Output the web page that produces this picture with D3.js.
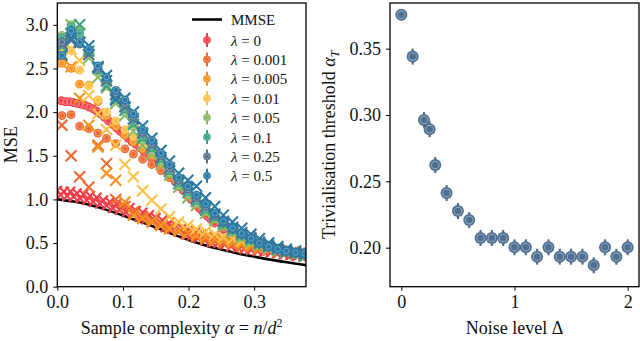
<!DOCTYPE html>
<html>
<head>
<meta charset="utf-8">
<script src="https://cdnjs.cloudflare.com/ajax/libs/d3/7.8.5/d3.min.js"></script>
<style>
  body { margin: 0; background: #fff; }
  svg { display: block; }
  text { font-family: "Liberation Serif", "DejaVu Serif", serif; fill: #111; }
</style>
</head>
<body>
<div id="chart"></div>
<script>
// ---- left panel data: MSE vs sample complexity ----
const lambdas = ["0", "0.001", "0.005", "0.01", "0.05", "0.1", "0.25", "0.5"];
const colors = ["#ef3f4a", "#ee6a30", "#f6931f", "#fcc246", "#8cb962", "#3aa286", "#56718f", "#2779a6"];

const mmseAlpha = [0, 0.025, 0.05, 0.075, 0.1, 0.125, 0.15, 0.175, 0.2, 0.225, 0.25, 0.275, 0.3, 0.325, 0.35, 0.375, 0.38];
const mmse = [1.0, 0.975, 0.935, 0.88, 0.815, 0.75, 0.68, 0.605, 0.535, 0.475, 0.425, 0.38, 0.345, 0.31, 0.28, 0.252, 0.246];

const alphaGrid = [0.007, 0.021, 0.034, 0.048, 0.062, 0.075, 0.089, 0.103, 0.116, 0.130, 0.144, 0.158, 0.171, 0.185,
  0.199, 0.212, 0.226, 0.240, 0.253, 0.267, 0.281, 0.295, 0.308, 0.322, 0.336, 0.349, 0.363, 0.377];
const errGrid = [0.04, 0.04, 0.04, 0.04, 0.04, 0.04, 0.04, 0.04, 0.04, 0.04, 0.04, 0.04, 0.05, 0.05,
  0.05, 0.05, 0.05, 0.05, 0.06, 0.06, 0.06, 0.06, 0.06, 0.06, 0.06, 0.06, 0.06, 0.06];

// lambda = 0 has a denser run of circles and the low branch of crosses
const redAlpha = [0.006, 0.012, 0.018, 0.024, 0.030, 0.036, 0.042, 0.048, 0.054, 0.060, 0.066, 0.072, 0.078, 0.084,
  0.090, 0.096, 0.102, 0.108, 0.114, 0.120, 0.126, 0.132, 0.138, 0.144, 0.150, 0.156, 0.162, 0.168, 0.174, 0.180,
  0.186, 0.192, 0.198, 0.204, 0.210, 0.216, 0.222, 0.228, 0.234, 0.240, 0.253, 0.267, 0.281, 0.295, 0.308, 0.322,
  0.336, 0.349, 0.363, 0.377];
const redCircles = [2.13, 2.12, 2.12, 2.11, 2.10, 2.09, 2.08, 2.06, 2.04, 2.01, 1.98, 1.94, 1.90, 1.86,
  1.82, 1.78, 1.74, 1.70, 1.66, 1.63, 1.59, 1.55, 1.51, 1.47, 1.43, 1.39, 1.35, 1.30, 1.25, 1.20,
  1.15, 1.10, 1.05, 1.00, 0.95, 0.90, 0.86, 0.81, 0.77, 0.73, 0.66, 0.60, 0.55, 0.51, 0.47, 0.44,
  0.41, 0.39, 0.37, 0.35];
const redCrossAlpha = [0.000, 0.005, 0.010, 0.015, 0.020, 0.025, 0.030, 0.035, 0.040, 0.045, 0.050, 0.055, 0.060,
  0.065, 0.070, 0.075, 0.080, 0.085, 0.090, 0.095, 0.100, 0.105, 0.110, 0.115, 0.120, 0.125, 0.130, 0.135,
  0.140, 0.145, 0.150, 0.155, 0.160, 0.165, 0.170, 0.175, 0.180, 0.185, 0.190, 0.195, 0.200, 0.205, 0.210,
  0.215, 0.220, 0.225, 0.230, 0.235, 0.240, 0.245, 0.250, 0.255, 0.260, 0.265, 0.270, 0.275, 0.280, 0.285,
  0.290, 0.295, 0.300, 0.305, 0.310, 0.315, 0.320, 0.325, 0.330, 0.335, 0.340, 0.345, 0.350, 0.355, 0.360,
  0.365, 0.370, 0.375];
const redCrosses = [1.10, 1.05, 1.09, 1.04, 1.09, 1.03, 1.07, 1.01, 1.06, 0.99, 1.04, 0.97, 1.02,
  0.95, 0.99, 0.93, 0.97, 0.90, 0.95, 0.88, 0.92, 0.85, 0.90, 0.83, 0.87, 0.80, 0.85, 0.77,
  0.82, 0.74, 0.79, 0.71, 0.76, 0.68, 0.73, 0.66, 0.70, 0.63, 0.67, 0.60, 0.65, 0.58, 0.62,
  0.56, 0.60, 0.53, 0.58, 0.51, 0.56, 0.50, 0.54, 0.48, 0.53, 0.46, 0.51, 0.45, 0.49, 0.43,
  0.48, 0.42, 0.47, 0.41, 0.46, 0.40, 0.44, 0.39, 0.43, 0.38, 0.42, 0.37, 0.41, 0.36, 0.40,
  0.35, 0.39, 0.34];

// other lambdas, read on alphaGrid
const circ0001 = [1.96, 1.97, 1.84, 1.81, 1.76, 1.70, 1.64, 1.58, 1.52, 1.46, 1.40, 1.33, 1.25, 1.15, 1.04, 0.94, 0.85, 0.77, 0.69, 0.62, 0.57, 0.52, 0.48, 0.45, 0.42, 0.40, 0.38, 0.36];
const circ0005 = [2.56, 2.50, 2.32, 2.31, 2.12, 1.96, 1.84, 1.74, 1.66, 1.58, 1.50, 1.41, 1.31, 1.20, 1.08, 0.98, 0.88, 0.80, 0.72, 0.65, 0.59, 0.54, 0.50, 0.46, 0.43, 0.41, 0.39, 0.37];
const circ001 = [2.78, 2.70, 2.48, 2.30, 2.14, 2.00, 1.90, 1.80, 1.72, 1.63, 1.54, 1.45, 1.35, 1.24, 1.12, 1.01, 0.91, 0.83, 0.75, 0.67, 0.61, 0.56, 0.51, 0.47, 0.44, 0.42, 0.40, 0.38];
const circ005 = [2.88, 3.00, 2.95, 2.66, 2.45, 2.30, 2.14, 2.00, 1.84, 1.68, 1.56, 1.44, 1.30, 1.16, 1.06, 0.96, 0.87, 0.78, 0.70, 0.63, 0.57, 0.52, 0.48, 0.45, 0.42, 0.40, 0.38, 0.36];
const circ01 = [2.85, 2.98, 2.90, 2.68, 2.48, 2.34, 2.18, 2.04, 1.89, 1.72, 1.60, 1.47, 1.33, 1.19, 1.09, 0.99, 0.89, 0.80, 0.72, 0.65, 0.59, 0.54, 0.49, 0.46, 0.43, 0.40, 0.38, 0.37];
const circ025 = [2.80, 2.93, 2.78, 2.70, 2.50, 2.38, 2.22, 2.10, 1.95, 1.77, 1.64, 1.50, 1.36, 1.22, 1.12, 1.02, 0.92, 0.82, 0.74, 0.66, 0.60, 0.55, 0.50, 0.46, 0.43, 0.41, 0.39, 0.37];
const circ05 = [2.65, 2.93, 2.80, 2.72, 2.53, 2.40, 2.25, 2.14, 1.98, 1.80, 1.68, 1.53, 1.40, 1.25, 1.15, 1.05, 0.95, 0.84, 0.75, 0.67, 0.61, 0.55, 0.50, 0.46, 0.43, 0.41, 0.39, 0.38];

const cross0001 = [1.85, 1.50, 1.26, 1.14, 1.62, 1.41, 1.00, 0.92, 0.86, 0.80, 0.76, 0.72, 0.68, 0.64, 0.60, 0.57, 0.54, 0.52, 0.50, 0.48, 0.46, 0.44, 0.43, 0.42, 0.40, 0.39, 0.38, 0.37];
const cross0005 = [2.56, 2.52, 2.16, 1.85, 1.60, 1.30, 1.22, 0.97, 0.82, 0.78, 0.74, 0.70, 0.66, 0.64, 0.62, 0.59, 0.57, 0.55, 0.53, 0.51, 0.49, 0.47, 0.45, 0.43, 0.42, 0.40, 0.39, 0.38];
const cross001 = [2.72, 2.72, 2.59, 2.19, 1.98, 1.80, 1.62, 1.40, 1.26, 1.10, 0.99, 0.89, 0.80, 0.74, 0.70, 0.66, 0.63, 0.60, 0.57, 0.55, 0.52, 0.50, 0.48, 0.46, 0.44, 0.42, 0.41, 0.39];
const cross005 = [2.80, 3.00, 2.90, 2.62, 2.40, 2.28, 2.10, 1.96, 1.78, 1.62, 1.52, 1.40, 1.28, 1.14, 1.02, 0.93, 0.84, 0.76, 0.69, 0.62, 0.56, 0.51, 0.47, 0.44, 0.41, 0.39, 0.37, 0.35];
const cross01 = [2.75, 2.90, 3.00, 2.70, 2.50, 2.30, 2.16, 2.02, 1.86, 1.70, 1.58, 1.45, 1.32, 1.18, 1.08, 0.98, 0.88, 0.80, 0.72, 0.65, 0.59, 0.54, 0.49, 0.46, 0.43, 0.40, 0.38, 0.36];
const cross025 = [2.78, 2.82, 2.80, 2.66, 2.52, 2.36, 2.20, 2.06, 1.92, 1.76, 1.62, 1.48, 1.36, 1.22, 1.12, 1.02, 0.92, 0.83, 0.75, 0.68, 0.62, 0.56, 0.51, 0.47, 0.44, 0.41, 0.39, 0.37];
const cross05 = [2.65, 2.85, 2.80, 2.76, 2.52, 2.42, 2.14, 2.16, 2.00, 1.84, 1.70, 1.56, 1.44, 1.30, 1.22, 1.15, 1.02, 0.92, 0.82, 0.74, 0.67, 0.60, 0.55, 0.50, 0.46, 0.43, 0.41, 0.39];

// ---- right panel data: trivialisation threshold vs noise ----
const noise = [0, 0.1, 0.2, 0.25, 0.3, 0.4, 0.5, 0.6, 0.7, 0.8, 0.9, 1.0, 1.1, 1.2, 1.3, 1.4, 1.5, 1.6, 1.7, 1.8, 1.9, 2.0];
const threshold = [0.3756, 0.3440, 0.2963, 0.2893, 0.2623, 0.2412, 0.2276, 0.2208, 0.2073, 0.2073, 0.2073,
  0.2003, 0.2003, 0.1932, 0.2003, 0.1932, 0.1932, 0.1932, 0.1867, 0.2003, 0.1932, 0.2003];
const thresholdErr = [0.001, 0.006, 0.006, 0.006, 0.006, 0.006, 0.006, 0.006, 0.006, 0.006, 0.006,
  0.006, 0.006, 0.006, 0.006, 0.006, 0.006, 0.006, 0.006, 0.006, 0.006, 0.006];

const W = 640, H = 341;
const svg = d3.select("#chart").append("svg").attr("width", W).attr("height", H);

function lighter(c, k) { return d3.interpolateRgb(c, "#fff")(k); }

function crossPath(s) { return `M${-s},${-s}L${s},${s}M${-s},${s}L${s},${-s}`; }

function drawCircles(g, pts, color, r) {
  const gg = g.append("g");
  gg.selectAll("line").data(pts).enter().append("line")
    .attr("x1", d => d.x).attr("x2", d => d.x)
    .attr("y1", d => d.y0).attr("y2", d => d.y1)
    .attr("stroke", color).attr("stroke-width", 1.8);
  gg.selectAll("circle.o").data(pts).enter().append("circle")
    .attr("class", "o").attr("cx", d => d.x).attr("cy", d => d.y).attr("r", r)
    .attr("fill", color);
  gg.selectAll("circle.i").data(pts).enter().append("circle")
    .attr("class", "i").attr("cx", d => d.x).attr("cy", d => d.y).attr("r", r * 0.62)
    .attr("fill", "none").attr("stroke", lighter(color, 0.35)).attr("stroke-width", 1);
}

function styleAxis(sel) {
  sel.select(".domain").remove();
  sel.selectAll(".tick line").attr("stroke", "#000").attr("stroke-width", 1);
  sel.selectAll(".tick text").style("font-family", "'Liberation Serif', serif").style("font-size", "18px").attr("fill", "#111");
}

// ================= LEFT PANEL =================
const L = {left: 57.3, right: 306, top: 3, bottom: 286.7};
const xL = d3.scaleLinear().domain([0, 0.379]).range([L.left, L.right]);
const yL = d3.scaleLinear().domain([0, 3.25]).range([L.bottom, L.top]);

svg.append("clipPath").attr("id", "clipL").append("rect")
  .attr("x", L.left).attr("y", L.top).attr("width", L.right - L.left).attr("height", L.bottom - L.top);

const plotL = svg.append("g").attr("clip-path", "url(#clipL)");

plotL.append("path")
  .datum(mmseAlpha.map((a, i) => [a, mmse[i]]))
  .attr("fill", "none").attr("stroke", "#000").attr("stroke-width", 2.6)
  .attr("d", d3.line().x(d => xL(d[0])).y(d => yL(d[1])).curve(d3.curveMonotoneX));

const series = [
  {circA: redAlpha, circV: redCircles, crossA: redCrossAlpha, crossV: redCrosses, cs: 4.8},
  {circA: alphaGrid, circV: circ0001, crossA: alphaGrid, crossV: cross0001, cs: 5.5},
  {circA: alphaGrid, circV: circ0005, crossA: alphaGrid, crossV: cross0005, cs: 5.5},
  {circA: alphaGrid, circV: circ001, crossA: alphaGrid, crossV: cross001, cs: 5.5},
  {circA: alphaGrid, circV: circ005, crossA: alphaGrid, crossV: cross005, cs: 5.5},
  {circA: alphaGrid, circV: circ01, crossA: alphaGrid, crossV: cross01, cs: 5.5},
  {circA: alphaGrid, circV: circ025, crossA: alphaGrid, crossV: cross025, cs: 5.5},
  {circA: alphaGrid, circV: circ05, crossA: alphaGrid, crossV: cross05, cs: 5.5}
];

series.forEach((s, k) => {
  const color = colors[k];
  plotL.append("g").selectAll("path")
    .data(s.crossA.map((a, i) => [a, s.crossV[i]]))
    .enter().append("path")
    .attr("transform", d => `translate(${xL(d[0])},${yL(d[1])})`)
    .attr("d", crossPath(s.cs))
    .attr("stroke", color).attr("stroke-width", 2.1).attr("fill", "none");
  const pts = s.circA.map((a, i) => {
    const e = errGrid[Math.min(errGrid.length - 1, d3.bisectLeft(alphaGrid, a))];
    return {x: xL(a), y: yL(s.circV[i]), y0: yL(s.circV[i] - e), y1: yL(s.circV[i] + e)};
  });
  drawCircles(plotL, pts, color, 4.4);
});

svg.append("g").attr("transform", `translate(0,${L.bottom})`)
  .call(d3.axisBottom(xL).tickValues([0, 0.1, 0.2, 0.3]).tickFormat(d3.format(".1f")).tickSize(4).tickPadding(5))
  .call(styleAxis);
svg.append("g").attr("transform", `translate(${L.left},0)`)
  .call(d3.axisLeft(yL).tickValues([0, 0.5, 1, 1.5, 2, 2.5, 3]).tickFormat(d3.format(".1f")).tickSize(4).tickPadding(5))
  .call(styleAxis);

svg.append("rect").attr("x", L.left).attr("y", L.top).attr("width", L.right - L.left).attr("height", L.bottom - L.top)
  .attr("fill", "none").attr("stroke", "#000").attr("stroke-width", 1.3);

// legend
const leg = svg.append("g");
leg.append("line").attr("x1", 192).attr("x2", 222).attr("y1", 19.5).attr("y2", 19.5)
  .attr("stroke", "#000").attr("stroke-width", 2.6);
leg.append("text").attr("x", 231).attr("y", 25).style("font-size", "15px").text("MMSE");
lambdas.forEach((lam, i) => {
  const y = 40 + 19.4 * i;
  leg.append("line").attr("x1", 207).attr("x2", 207).attr("y1", y - 7).attr("y2", y + 7)
    .attr("stroke", colors[i]).attr("stroke-width", 2);
  leg.append("circle").attr("cx", 207).attr("cy", y).attr("r", 3.8).attr("fill", colors[i]);
  leg.append("circle").attr("cx", 207).attr("cy", y).attr("r", 2.3).attr("fill", "none")
    .attr("stroke", lighter(colors[i], 0.35)).attr("stroke-width", 0.8);
  const t = leg.append("text").attr("x", 231).attr("y", y + 5.5).style("font-size", "15px");
  t.append("tspan").style("font-style", "italic").text("λ");
  t.append("tspan").text(" = " + lam);
});

// labels
const lx = svg.append("text").attr("x", (L.left + L.right) / 2).attr("y", 334)
  .attr("text-anchor", "middle").style("font-size", "18px");
lx.append("tspan").text("Sample complexity ");
lx.append("tspan").style("font-style", "italic").text("α");
lx.append("tspan").text(" = ");
lx.append("tspan").style("font-style", "italic").text("n");
lx.append("tspan").text("/");
lx.append("tspan").style("font-style", "italic").text("d");
lx.append("tspan").attr("dy", -7).style("font-size", "12px").text("2");

svg.append("text").attr("transform", `translate(17,${(L.top + L.bottom) / 2}) rotate(-90)`)
  .attr("text-anchor", "middle").style("font-size", "18px").text("MSE");

// ================= RIGHT PANEL =================
const R = {left: 390, right: 639, top: 3, bottom: 286.7};
const xR = d3.scaleLinear().domain([-0.1, 2.1]).range([R.left, R.right]);
const yR = d3.scaleLinear().domain([0.1706, 0.3844]).range([R.bottom, R.top]);

const plotR = svg.append("g");
const ptsR = noise.map((n, i) => ({
  x: xR(n), y: yR(threshold[i]),
  y0: yR(threshold[i] - thresholdErr[i]), y1: yR(threshold[i] + thresholdErr[i])
}));
const gR = plotR.append("g");
gR.selectAll("line").data(ptsR).enter().append("line")
  .attr("x1", d => d.x).attr("x2", d => d.x).attr("y1", d => d.y0).attr("y2", d => d.y1)
  .attr("stroke", "#4f6f91").attr("stroke-width", 2.2);
gR.selectAll("circle.o").data(ptsR).enter().append("circle").attr("class", "o")
  .attr("cx", d => d.x).attr("cy", d => d.y).attr("r", 6).attr("fill", "#4f6f91");
gR.selectAll("circle.i").data(ptsR).enter().append("circle").attr("class", "i")
  .attr("cx", d => d.x).attr("cy", d => d.y).attr("r", 3.8).attr("fill", "none")
  .attr("stroke", "#8ea4bb").attr("stroke-width", 1.1);

svg.append("g").attr("transform", `translate(0,${R.bottom})`)
  .call(d3.axisBottom(xR).tickValues([0, 1, 2]).tickFormat(d3.format("d")).tickSize(4).tickPadding(5))
  .call(styleAxis);
svg.append("g").attr("transform", `translate(${R.left},0)`)
  .call(d3.axisLeft(yR).tickValues([0.20, 0.25, 0.30, 0.35]).tickFormat(d3.format(".2f")).tickSize(4).tickPadding(5))
  .call(styleAxis);

svg.append("rect").attr("x", R.left).attr("y", R.top).attr("width", R.right - R.left).attr("height", R.bottom - R.top)
  .attr("fill", "none").attr("stroke", "#000").attr("stroke-width", 1.3);

svg.append("text").attr("x", (R.left + R.right) / 2).attr("y", 334)
  .attr("text-anchor", "middle").style("font-size", "18px")
  .call(t => { t.append("tspan").text("Noise level Δ"); });

const ry = svg.append("text").attr("transform", `translate(335,${(R.top + R.bottom) / 2}) rotate(-90)`)
  .attr("text-anchor", "middle").style("font-size", "18px");
ry.append("tspan").text("Trivialisation threshold ");
ry.append("tspan").style("font-style", "italic").text("α");
ry.append("tspan").attr("dy", 4).style("font-size", "12px").style("font-style", "italic").text("T");
</script>
</body>
</html>
